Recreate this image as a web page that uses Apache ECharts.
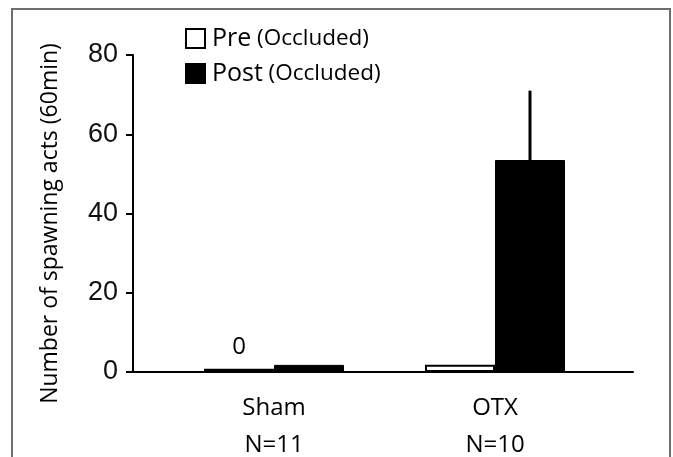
<!DOCTYPE html>
<html>
<head>
<meta charset="utf-8">
<script src="https://cdn.jsdelivr.net/npm/echarts@6/dist/echarts.min.js"></script>
<style>
html,body{margin:0;padding:0;background:#fff;}
#chart{width:673px;height:457px;}
</style>
</head>
<body>
<div id="chart"></div>
<script>
var categories = ['Sham\nN=11', 'OTX\nN=10'];
var preValues = [0.8, 1.8];
var postValues = [1.8, 53.5];
var postErrorTop = [null, 71];
var preLabels = ['0', ''];
var yTicks = [0, 20, 40, 60, 80];

var chart = echarts.init(document.getElementById('chart'));
var BAR_W = 70;
var TXT = '"Open Sans", "Noto Sans", sans-serif';

var errData = [];
postErrorTop.forEach(function (v, i) {
  if (v != null) errData.push([i, postValues[i], v]);
});

chart.setOption({
  animation: false,
  backgroundColor: '#fff',
  graphic: [{
    type: 'rect',
    shape: { x: 12, y: 9, width: 658, height: 470 },
    style: { fill: 'none', stroke: '#6e6e6e', lineWidth: 2 },
    silent: true
  }],
  legend: {
    left: 185, top: 26, orient: 'vertical', padding: 0,
    itemWidth: 19, itemHeight: 19, itemGap: 10,
    icon: 'rect',
    data: [
      { name: 'Pre', itemStyle: { color: '#fff', borderColor: '#000', borderWidth: 2 } },
      { name: 'Post', itemStyle: { color: '#000' } }
    ],
    formatter: function (n) { return '{a|' + n + '}{s| }{b|(Occluded)}'; },
    textStyle: {
      padding: [0, 0, 0, 2],
      rich: {
        a: { fontFamily: TXT, fontSize: 25, color: '#000', lineHeight: 19 },
        s: { fontFamily: TXT, fontSize: 22, lineHeight: 19 },
        b: { fontFamily: TXT, fontSize: 22.5, color: '#000', lineHeight: 19 }
      }
    }
  },
  grid: [
    { left: 163.5, right: 67.5, top: 55, bottom: 85, outerBoundsMode: 'none' },
    { left: 133, right: 40, top: 55, bottom: 85, outerBoundsMode: 'none' }
  ],
  xAxis: [
    {
      type: 'category', gridIndex: 0, data: categories,
      axisLine: { show: false }, axisTick: { show: false },
      axisLabel: { fontFamily: TXT, fontSize: 24, color: '#000', lineHeight: 37, margin: 18 }
    },
    {
      type: 'value', gridIndex: 1, min: 0, max: 1,
      axisLine: { show: true, lineStyle: { color: '#000', width: 2 } },
      axisTick: { show: false }, axisLabel: { show: false }, splitLine: { show: false }
    }
  ],
  yAxis: [
    {
      type: 'value', gridIndex: 0, min: 0, max: 80, interval: 20, show: false
    },
    {
      type: 'value', gridIndex: 1, min: yTicks[0], max: yTicks[yTicks.length - 1], interval: 20,
      name: 'Number of spawning acts (60min)',
      nameLocation: 'middle', nameRotate: 90, nameGap: 71,
      nameTextStyle: { fontFamily: TXT, fontSize: 23, color: '#000', padding: [0, 20, 0, 0] },
      axisLine: { show: true, lineStyle: { color: '#000', width: 2 } },
      axisTick: { show: true, length: 7, lineStyle: { color: '#000', width: 2 } },
      axisLabel: { fontFamily: '"Liberation Sans", Arial, sans-serif', fontSize: 27, color: '#111', margin: 15 },
      splitLine: { show: false }
    }
  ],
  series: [
    {
      name: 'Pre', type: 'bar', xAxisIndex: 0, yAxisIndex: 0,
      data: preValues, barWidth: BAR_W, barGap: '0%',
      itemStyle: { color: '#fff', borderColor: '#000', borderWidth: 2 },
      label: {
        show: true, position: 'top', distance: 10,
        formatter: function (p) { return preLabels[p.dataIndex]; },
        fontFamily: TXT, fontSize: 24, color: '#000'
      }
    },
    {
      name: 'Post', type: 'bar', xAxisIndex: 0, yAxisIndex: 0,
      data: postValues, barWidth: BAR_W, barGap: '0%',
      itemStyle: { color: '#000', borderColor: '#000', borderWidth: 1 }
    },
    {
      type: 'custom', xAxisIndex: 0, yAxisIndex: 0, z: 1,
      data: errData,
      renderItem: function (params, api) {
        var p0 = api.coord([api.value(0), api.value(1)]);
        var p1 = api.coord([api.value(0), api.value(2)]);
        var x = p0[0] + BAR_W / 2;
        return {
          type: 'line',
          shape: { x1: x, y1: p0[1], x2: x, y2: p1[1] },
          style: { stroke: '#000', lineWidth: 3 }
        };
      }
    }
  ]
});
</script>
</body>
</html>
